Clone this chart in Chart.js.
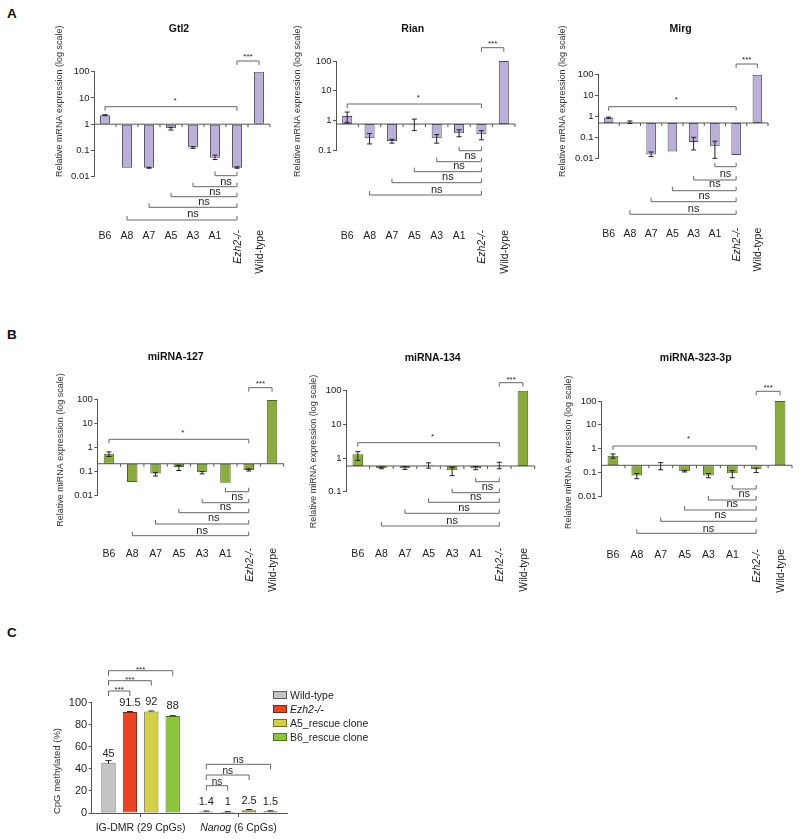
<!DOCTYPE html>
<html>
<head>
<meta charset="utf-8">
<script src="https://cdn.jsdelivr.net/npm/chart.js@4.4.0/dist/chart.umd.min.js"></script>
<style>
  body { margin: 0; background: #fff; }
  #page { position: relative; width: 800px; height: 840px; overflow: hidden; font-family: "Liberation Sans", Arial, sans-serif; }
  #page canvas { position: absolute; left: 0; top: 0; }
  .letter { position: absolute; font-weight: bold; font-size: 13.5px; line-height: 14px; color: #111; }
</style>
</head>
<body>
<div id="page">
  <div class="letter" style="left:7px;top:7px">A</div>
  <div class="letter" style="left:7px;top:328px">B</div>
  <div class="letter" style="left:7px;top:626px">C</div>
  <canvas id="gtl2" width="800" height="840"></canvas>
  <canvas id="rian" width="800" height="840"></canvas>
  <canvas id="mirg" width="800" height="840"></canvas>
  <canvas id="mir127" width="800" height="840"></canvas>
  <canvas id="mir134" width="800" height="840"></canvas>
  <canvas id="mir323" width="800" height="840"></canvas>
  <canvas id="methyl" width="800" height="840"></canvas>
</div>
<script>
// ---- data ----
const categories = ["B6", "A8", "A7", "A5", "A3", "A1", "Ezh2-/-", "Wild-type"];

const gtl2Values = [2.2, 0.022, 0.022, 0.7, 0.13, 0.053, 0.022, 100];
const gtl2Errors = [[2.1, 2.3], null, [0.021, 0.023], [0.6, 0.76], [0.12, 0.14], [0.045, 0.066], [0.021, 0.024], null];

const rianValues = [1.4, 0.25, 0.2, 0.72, 0.25, 0.37, 0.34, 100];
const rianErrors = [[0.85, 1.9], [0.16, 0.36], [0.17, 0.23], [0.45, 1.1], [0.17, 0.33], [0.28, 0.48], [0.22, 0.45], null];

const mirgValues = [0.87, 0.5, 0.015, 0.021, 0.06, 0.037, 0.0145, 95];
const mirgErrors = [[0.8, 0.92], [0.45, 0.6], [0.012, 0.02], null, [0.025, 0.1], [0.01, 0.065], null, null];

const mir127Values = [0.55, 0.037, 0.082, 0.155, 0.093, 0.034, 0.117, 90];
const mir127Errors = [[0.42, 0.65], null, [0.065, 0.09], [0.11, 0.18], [0.08, 0.1], null, [0.105, 0.13], null];

const mir134Values = [1.3, 0.5, 0.5, 0.6, 0.43, 0.5, 0.6, 100];
const mir134Errors = [[0.85, 1.55], [0.48, 0.54], [0.46, 0.56], [0.5, 0.72], [0.3, 0.52], [0.45, 0.56], [0.48, 0.75], null];

const mir323Values = [0.5, 0.074, 0.2, 0.113, 0.074, 0.093, 0.137, 100];
const mir323Errors = [[0.4, 0.6], [0.055, 0.09], [0.13, 0.26], [0.105, 0.12], [0.06, 0.09], [0.06, 0.12], [0.1, 0.15], null];

const regions = ["IG-DMR (29 CpGs)", "Nanog (6 CpGs)"];
const wildTypeMeth = [45, 1.4];
const ezh2Meth = [91.5, 1];
const a5Meth = [92, 2.5];
const b6Meth = [88, 1.5];
const wildTypeErrTop = [47.5, 1.8];
const ezh2ErrTop = [92, 1.2];
const a5ErrTop = [92.5, 3.2];
const b6ErrTop = [88.3, 2];

// ---- style ----
const FAMILY = '"Liberation Sans", Arial, sans-serif';
const TEXT = "#222";
const AXIS = "#555";
const W = 800, H = 840;
const purple = { fill: "#bdb0d8", line: "#4d4660" };
const green = { fill: "#8aab3e", line: "#4b6420" };

function f(size, style) {
  return (style || "") + " " + size + "px " + FAMILY;
}

function bracket(ctx, x0, x1, y, tick) {
  ctx.beginPath();
  ctx.moveTo(x0, y + tick);
  ctx.lineTo(x0, y);
  ctx.lineTo(x1, y);
  ctx.lineTo(x1, y + tick);
  ctx.stroke();
}

function exprPlugin(L, errors, base, title, yTitle) {
  return {
    id: "expr",
    afterDatasetsDraw(chart) {
      const ctx = chart.ctx;
      const xs = chart.scales.x, ys = chart.scales.y;
      const area = chart.chartArea;
      const bx = i => xs.getPixelForValue(i);
      ctx.save();
      // baseline crossing the axis
      const by = ys.getPixelForValue(base);
      ctx.strokeStyle = AXIS;
      ctx.lineWidth = 1;
      ctx.beginPath();
      ctx.moveTo(area.left, by);
      ctx.lineTo(area.right, by);
      for (let i = 0; i < categories.length; i++) {
        const tx = i < categories.length - 1 ? (bx(i) + bx(i + 1)) / 2 : area.right;
        ctx.moveTo(tx, by);
        ctx.lineTo(tx, by + 3);
      }
      ctx.stroke();

      // error bars
      ctx.strokeStyle = "#222";
      errors.forEach((e, i) => {
        if (!e) return;
        const x = bx(i), y0 = ys.getPixelForValue(e[0]), y1 = ys.getPixelForValue(e[1]);
        ctx.beginPath();
        ctx.moveTo(x, y0); ctx.lineTo(x, y1);
        ctx.moveTo(x - 2.5, y0); ctx.lineTo(x + 2.5, y0);
        ctx.moveTo(x - 2.5, y1); ctx.lineTo(x + 2.5, y1);
        ctx.stroke();
      });

      // significance brackets
      ctx.strokeStyle = "#666";
      ctx.fillStyle = TEXT;
      ctx.textAlign = "center";
      ctx.textBaseline = "alphabetic";
      bracket(ctx, bx(6), bx(7), L.wtY, 4);
      bracket(ctx, bx(0), bx(6), L.starY, 4);
      ctx.font = f(8);
      ctx.fillText("***", (bx(6) + bx(7)) / 2, L.wtTextY + 4.6);
      ctx.fillText("*", (bx(0) + bx(6)) / 2 + 4, L.starTextY + 4.6);
      ctx.font = f(11);
      [5, 4, 3, 2, 1].forEach((c, k) => {
        bracket(ctx, bx(c), bx(6), L.nsY[k], -4);
        if (k < 4) ctx.fillText("ns", (bx(c) + bx(6)) / 2, L.nsTextY[k] + 2.9);
      });

      // category labels
      ctx.font = f(10.5);
      categories.forEach((c, i) => {
        if (i < 6) {
          ctx.textAlign = "center";
          ctx.fillText(c, bx(i), L.labelY + 3.8);
        } else {
          ctx.save();
          ctx.translate(bx(i) + 3.8, L.rotTop);
          ctx.rotate(-Math.PI / 2);
          ctx.textAlign = "right";
          ctx.font = f(10.5, i === 6 ? "italic" : "");
          ctx.fillText(c, 0, 0);
          ctx.restore();
        }
      });

      // title and axis title
      ctx.textAlign = "center";
      ctx.font = f(10.5, "bold");
      ctx.fillStyle = "#111";
      ctx.fillText(title, L.title[0], L.title[1] + 3.8);
      ctx.save();
      ctx.translate(L.yTitle[0] + 2.8, L.yTitle[1]);
      ctx.rotate(-Math.PI / 2);
      ctx.textAlign = "left";
      ctx.font = f(9);
      ctx.fillStyle = "#333";
      ctx.fillText(yTitle, 0, 0);
      ctx.restore();
      ctx.restore();
    }
  };
}

function exprChart(id, values, errors, base, ymin, colors, L, title, yTitle) {
  const decades = [0.01, 0.1, 1, 10, 100].filter(v => v >= ymin);
  return new Chart(document.getElementById(id), {
    type: "bar",
    data: {
      labels: categories,
      datasets: [{
        data: values,
        base: base,
        backgroundColor: colors.fill,
        borderColor: colors.line,
        borderWidth: 1,
        borderSkipped: false,
        categoryPercentage: 0.45,
        barPercentage: 1
      }]
    },
    options: {
      responsive: false,
      animation: false,
      events: [],
      layout: { padding: { left: L.area[0] - 30, right: W - L.area[1], top: L.area[2], bottom: H - L.area[3] } },
      plugins: { legend: { display: false }, tooltip: { enabled: false } },
      scales: {
        x: { display: false },
        y: {
          type: "logarithmic",
          min: ymin,
          max: 100,
          afterFit: s => { s.width = 30; },
          afterBuildTicks: s => { s.ticks = decades.map(v => ({ value: v })); },
          ticks: { callback: v => String(v), font: { family: FAMILY, size: 9.5 }, color: TEXT, padding: 1.5 },
          grid: { drawOnChartArea: false, tickLength: 3, color: AXIS },
          border: { color: AXIS }
        }
      }
    },
    plugins: [exprPlugin(L, errors, base, title, yTitle)]
  });
}

const mrnaTitle = "Relative mRNA expression (log scale)";
const mirTitle = "Relative miRNA expression (log scale)";

exprChart("gtl2", gtl2Values, gtl2Errors, 1, 0.01, purple, {
  area: [94, 270, 71.7, 176.7], title: [179, 28], yTitle: [59.3, 177],
  wtY: 61, wtTextY: 54, starY: 106.7, starTextY: 98,
  nsY: [175.7, 186.7, 196.7, 207.3, 220], nsTextY: [181.7, 191.7, 201.7, 214.3],
  labelY: 235, rotTop: 230
}, "Gtl2", mrnaTitle);

exprChart("rian", rianValues, rianErrors, 0.75, 0.1, purple, {
  area: [336, 515, 61, 150], title: [412.7, 27.7], yTitle: [296.7, 177],
  wtY: 47.7, wtTextY: 41.7, starY: 104, starTextY: 95.7,
  nsY: [150.7, 161.7, 171.7, 182.7, 195], nsTextY: [155.7, 165.7, 176.7, 190],
  labelY: 235, rotTop: 230
}, "Rian", mrnaTitle);

exprChart("mirg", mirgValues, mirgErrors, 0.48, 0.01, purple, {
  area: [598, 768, 74.3, 158.3], title: [680.7, 27.7], yTitle: [561.7, 177],
  wtY: 64, wtTextY: 57.3, starY: 106.7, starTextY: 97.7,
  nsY: [166.7, 180, 190.7, 201.7, 214.3], nsTextY: [174, 184.3, 196, 209.3],
  labelY: 233.3, rotTop: 227.7
}, "Mirg", mrnaTitle);

exprChart("mir127", mir127Values, mir127Errors, 0.21, 0.01, green, {
  area: [97.3, 283.7, 399, 495.7], title: [175.7, 356], yTitle: [60, 526.7],
  wtY: 387.7, wtTextY: 381.7, starY: 439.3, starTextY: 430,
  nsY: [491.7, 502.7, 512.7, 524, 535.7], nsTextY: [496.7, 506.7, 517.7, 531],
  labelY: 553.3, rotTop: 548
}, "miRNA-127", mirTitle);

exprChart("mir134", mir134Values, mir134Errors, 0.58, 0.1, green, {
  area: [346, 534.7, 390.7, 491.7], title: [432.7, 356.7], yTitle: [312.7, 528.3],
  wtY: 382.7, wtTextY: 377, starY: 442.7, starTextY: 434,
  nsY: [481.7, 492.7, 502.3, 513.3, 526], nsTextY: [486.7, 496.7, 508.3, 521],
  labelY: 553.3, rotTop: 548
}, "miRNA-134", mirTitle);

exprChart("mir323", mir323Values, mir323Errors, 0.2, 0.01, green, {
  area: [601, 792, 401, 496.3], title: [695.7, 357.3], yTitle: [567.7, 529],
  wtY: 391.3, wtTextY: 385, starY: 446, starTextY: 436.7,
  nsY: [489, 500, 510, 521.3, 533.3], nsTextY: [494.3, 504.3, 515, 528.7],
  labelY: 554.3, rotTop: 549
}, "miRNA-323-3p", mirTitle);

// ---- panel C ----
const methErrTops = [wildTypeErrTop, ezh2ErrTop, a5ErrTop, b6ErrTop];
const italicLabels = ["Ezh2-/-"];
const methArea = [91.7, 287.3, 702.7, 813];

const methPlugin = {
  id: "methyl",
  afterDatasetsDraw(chart) {
    const ctx = chart.ctx;
    const ys = chart.scales.y, xs = chart.scales.x;
    const bar = (d, i) => chart.getDatasetMeta(d).data[i];
    ctx.save();
    ctx.strokeStyle = "#222";
    ctx.lineWidth = 1;
    // upper error whiskers
    methErrTops.forEach((tops, d) => {
      tops.forEach((t, i) => {
        const b = bar(d, i), yt = ys.getPixelForValue(t);
        ctx.beginPath();
        ctx.moveTo(b.x, b.y); ctx.lineTo(b.x, yt);
        ctx.moveTo(b.x - 3, yt); ctx.lineTo(b.x + 3, yt);
        ctx.stroke();
      });
    });
    // value labels
    ctx.fillStyle = TEXT;
    ctx.textAlign = "center";
    ctx.textBaseline = "alphabetic";
    ctx.font = f(11);
    chart.data.datasets.forEach((ds, d) => {
      ds.data.forEach((v, i) => {
        const b = bar(d, i);
        ctx.fillText(String(v), b.x, b.y - 10.5 + 4);
      });
    });
    // brackets
    ctx.strokeStyle = "#666";
    const igLines = [691, 680.7, 670.7];
    const nanogLines = [785.7, 775, 764.3];
    [1, 2, 3].forEach((d, k) => {
      bracket(ctx, bar(0, 0).x, bar(d, 0).x, igLines[k], 5);
      ctx.font = f(8);
      ctx.fillText("***", (bar(0, 0).x + bar(d, 0).x) / 2, igLines[k] + 1);
      bracket(ctx, bar(0, 1).x, bar(d, 1).x, nanogLines[k], 5);
      ctx.font = f(10);
      ctx.fillText("ns", (bar(0, 1).x + bar(d, 1).x) / 2, nanogLines[k] - 1);
    });
    // category labels (gene name italic for Nanog)
    const ly = 827.3 + 3.8;
    ctx.font = f(10.5);
    ctx.fillText(regions[0], xs.getPixelForValue(0), ly);
    const parts = regions[1].split(" ");
    const head = parts[0], tail = " " + parts.slice(1).join(" ");
    ctx.font = f(10.5, "italic");
    const wHead = ctx.measureText(head).width;
    ctx.font = f(10.5);
    const wTail = ctx.measureText(tail).width;
    const x0 = xs.getPixelForValue(1) - (wHead + wTail) / 2;
    ctx.textAlign = "left";
    ctx.font = f(10.5, "italic");
    ctx.fillText(head, x0, ly);
    ctx.font = f(10.5);
    ctx.fillText(tail, x0 + wHead, ly);
    // y title
    ctx.save();
    ctx.translate(57.3 + 3, 771);
    ctx.rotate(-Math.PI / 2);
    ctx.textAlign = "center";
    ctx.font = f(9.5);
    ctx.fillStyle = "#333";
    ctx.fillText("CpG methylated (%)", 0, 0);
    ctx.restore();
    // legend
    chart.data.datasets.forEach((ds, d) => {
      const cy = 695 + d * 14;
      ctx.fillStyle = ds.backgroundColor;
      ctx.fillRect(273.5, cy - 3.5, 13, 7);
      ctx.strokeStyle = ds.borderColor;
      ctx.strokeRect(273.5, cy - 3.5, 13, 7);
      ctx.fillStyle = TEXT;
      ctx.textAlign = "left";
      ctx.font = f(10.5, italicLabels.includes(ds.label) ? "italic" : "");
      ctx.fillText(ds.label, 290, cy + 3.8);
    });
    ctx.restore();
  }
};

new Chart(document.getElementById("methyl"), {
  type: "bar",
  data: {
    labels: regions,
    datasets: [
      { label: "Wild-type", data: wildTypeMeth, backgroundColor: "#c4c4c4", borderColor: "#5a5a5a" },
      { label: "Ezh2-/-", data: ezh2Meth, backgroundColor: "#ea4426", borderColor: "#7e2412" },
      { label: "A5_rescue clone", data: a5Meth, backgroundColor: "#d4cf48", borderColor: "#736e22" },
      { label: "B6_rescue clone", data: b6Meth, backgroundColor: "#8cc43c", borderColor: "#4a7420" }
    ]
  },
  options: {
    responsive: false,
    animation: false,
    events: [],
    datasets: { bar: { categoryPercentage: 0.875, barPercentage: 0.67, borderWidth: 1, borderSkipped: false } },
    layout: { padding: { left: methArea[0] - 30, right: W - methArea[1], top: methArea[2], bottom: H - methArea[3] } },
    plugins: { legend: { display: false }, tooltip: { enabled: false } },
    scales: {
      x: {
        afterFit: s => { s.height = 0; },
        ticks: { display: false },
        grid: { offset: false, drawOnChartArea: false, tickLength: 4, color: AXIS },
        border: { color: AXIS }
      },
      y: {
        min: 0,
        max: 100,
        afterFit: s => { s.width = 30; },
        ticks: { stepSize: 20, font: { family: FAMILY, size: 11 }, color: TEXT, padding: 1.5 },
        grid: { drawOnChartArea: false, tickLength: 3, color: AXIS },
        border: { color: AXIS }
      }
    }
  },
  plugins: [methPlugin]
});
</script>
</body>
</html>
